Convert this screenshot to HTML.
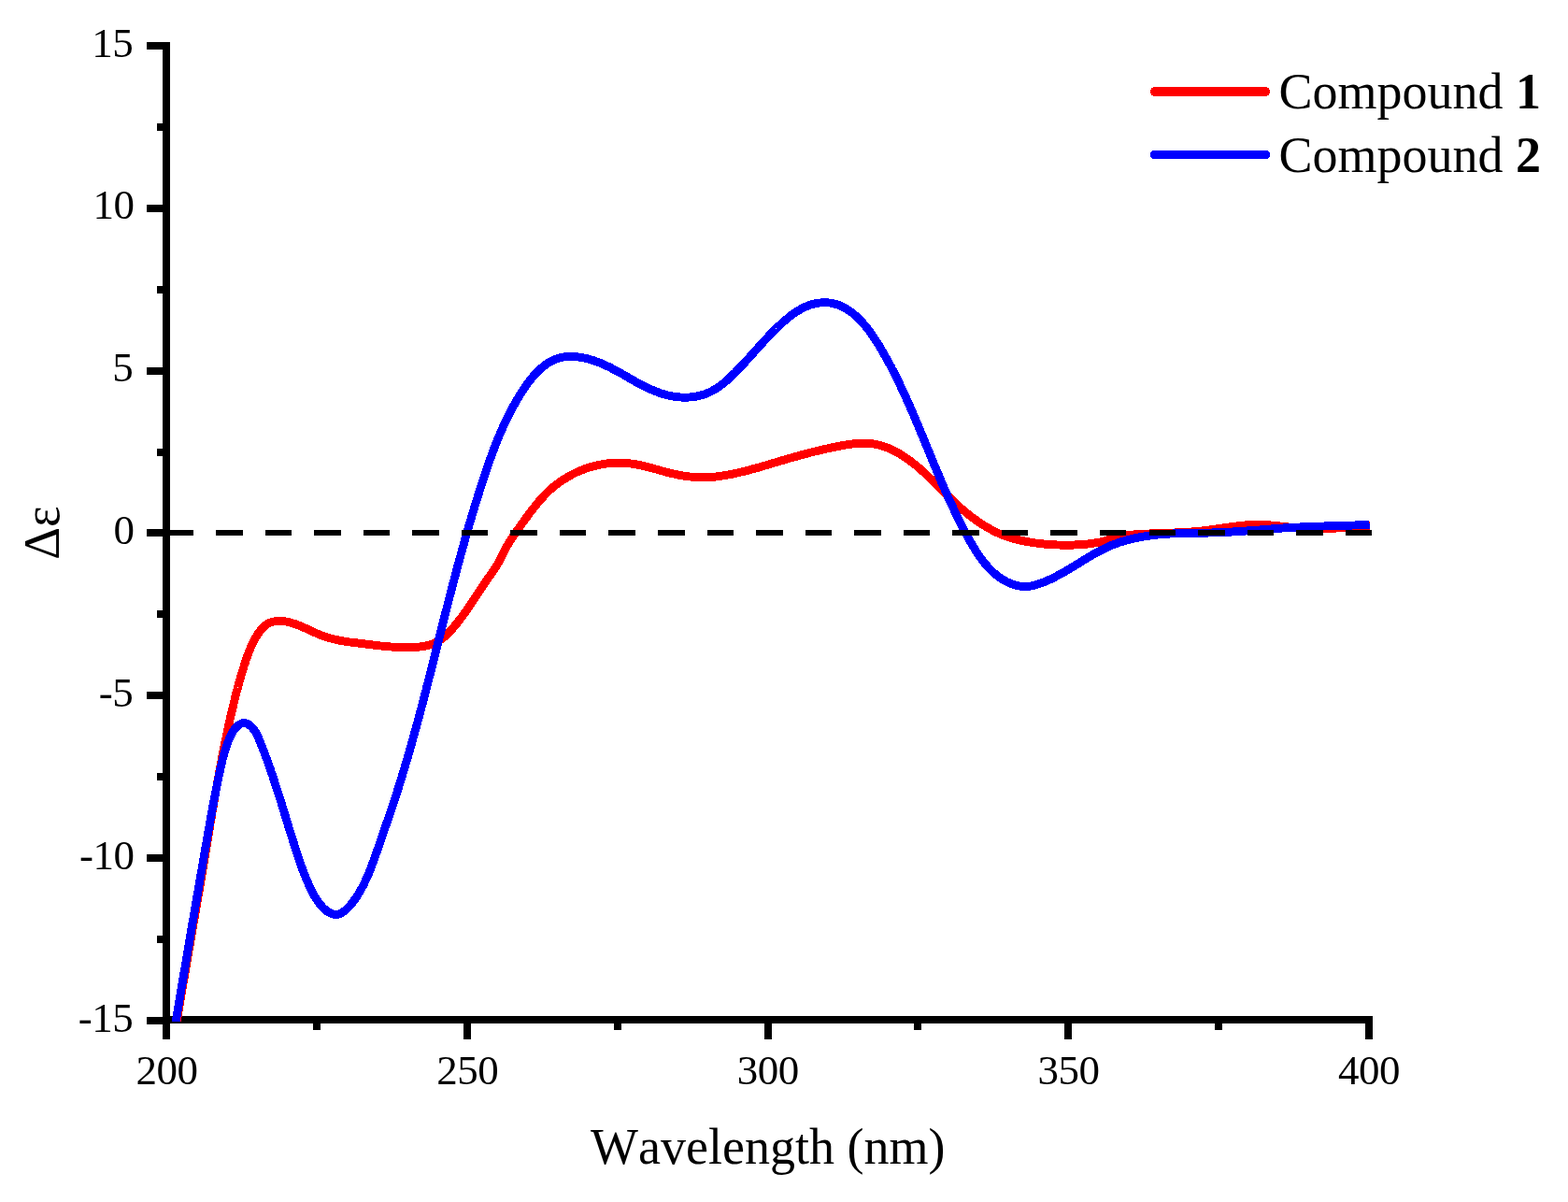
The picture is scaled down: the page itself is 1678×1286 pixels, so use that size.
<!DOCTYPE html>
<html lang="en"><head><meta charset="utf-8"><title>ECD spectra</title>
<style>
html,body{margin:0;padding:0;background:#fff;}
body{width:1678px;height:1286px;overflow:hidden;}
svg{display:block;}
text{font-family:"Liberation Serif","Times New Roman",serif;fill:#000;font-kerning:none;}
.tk{font-size:45px;letter-spacing:-0.5px;}
.tt{font-size:54px;}
</style></head><body>
<svg width="1678" height="1286" viewBox="0 0 1678 1286">
<rect width="1678" height="1286" fill="#fff"/>
<defs><clipPath id="plot"><rect x="174" y="40" width="1292.3" height="1053"/></clipPath></defs>

<g shape-rendering="crispEdges" fill="#000">
<rect x="174" y="45" width="8" height="1067"/>
<rect x="174" y="1087" width="1294.5" height="8"/>
<rect x="157" y="45" width="21" height="8"/>
<rect x="157" y="219" width="21" height="8"/>
<rect x="157" y="393" width="21" height="8"/>
<rect x="157" y="566" width="21" height="8"/>
<rect x="157" y="740" width="21" height="8"/>
<rect x="157" y="914" width="21" height="8"/>
<rect x="157" y="1088" width="21" height="8"/>
<rect x="168" y="132" width="10" height="8"/>
<rect x="168" y="306" width="10" height="8"/>
<rect x="168" y="480" width="10" height="8"/>
<rect x="168" y="653" width="10" height="8"/>
<rect x="168" y="827" width="10" height="8"/>
<rect x="168" y="1001" width="10" height="8"/>
<rect x="495.9" y="1091" width="8" height="21"/>
<rect x="817.5" y="1091" width="8" height="21"/>
<rect x="1139.2" y="1091" width="8" height="21"/>
<rect x="1460.8" y="1091" width="8" height="21"/>
<rect x="335.1" y="1091" width="8" height="11"/>
<rect x="656.7" y="1091" width="8" height="11"/>
<rect x="978.4" y="1091" width="8" height="11"/>
<rect x="1300.0" y="1091" width="8" height="11"/>
</g>
<g clip-path="url(#plot)" fill="none" stroke-width="8.9" stroke-linejoin="round" stroke-linecap="butt" shape-rendering="crispEdges">
<path d="M179.8,1150.0 L180.1,1148.6 L180.3,1147.1 L180.5,1145.6 L180.8,1144.1 L181.0,1142.6 L181.3,1141.1 L181.5,1139.7 L181.7,1138.2 L182.0,1136.7 L182.2,1135.2 L182.4,1133.7 L182.7,1132.2 L182.9,1130.8 L183.2,1129.3 L183.4,1127.8 L183.6,1126.3 L183.9,1124.8 L184.1,1123.3 L184.4,1121.9 L184.6,1120.4 L184.8,1118.9 L185.1,1117.4 L185.3,1115.9 L185.6,1114.5 L185.8,1113.0 L186.0,1111.5 L186.3,1110.0 L186.5,1108.5 L186.8,1107.0 L187.0,1105.6 L187.3,1104.1 L187.5,1102.6 L187.8,1101.1 L188.0,1099.6 L188.3,1098.2 L188.5,1096.7 L188.7,1095.2 L189.0,1093.7 L189.2,1092.2 L189.5,1090.8 L189.7,1089.3 L190.0,1087.8 L190.2,1086.3 L190.5,1084.9 L190.7,1083.4 L191.0,1081.9 L191.2,1080.4 L191.5,1078.9 L191.7,1077.5 L192.0,1076.0 L192.2,1074.5 L192.5,1073.0 L192.7,1071.5 L193.0,1070.1 L193.2,1068.6 L193.5,1067.1 L193.7,1065.6 L194.0,1064.2 L194.2,1062.7 L194.5,1061.2 L194.7,1059.7 L195.0,1058.2 L195.2,1056.8 L195.5,1055.3 L195.7,1053.8 L196.0,1052.3 L196.2,1050.9 L196.5,1049.4 L196.8,1047.9 L197.0,1046.4 L197.3,1044.9 L197.5,1043.5 L197.8,1042.0 L198.0,1040.5 L198.3,1039.0 L198.5,1037.6 L198.8,1036.1 L199.0,1034.6 L199.3,1033.1 L199.5,1031.7 L199.8,1030.2 L200.1,1028.7 L200.3,1027.2 L200.6,1025.7 L200.8,1024.3 L201.1,1022.8 L201.3,1021.3 L201.6,1019.8 L201.8,1018.4 L202.1,1016.9 L202.3,1015.4 L202.6,1013.9 L202.9,1012.5 L203.1,1011.0 L203.4,1009.5 L203.6,1008.0 L203.9,1006.5 L204.1,1005.1 L204.4,1003.6 L204.6,1002.1 L204.9,1000.6 L205.2,999.2 L205.4,997.7 L205.7,996.2 L205.9,994.7 L206.2,993.3 L206.4,991.8 L206.7,990.3 L206.9,988.8 L207.2,987.3 L207.4,985.9 L207.7,984.4 L208.0,982.9 L208.2,981.4 L208.5,980.0 L208.7,978.5 L209.0,977.0 L209.2,975.5 L209.5,974.1 L209.7,972.6 L210.0,971.1 L210.2,969.6 L210.5,968.1 L210.7,966.7 L211.0,965.2 L211.3,963.7 L211.5,962.2 L211.8,960.7 L212.0,959.3 L212.3,957.8 L212.5,956.3 L212.8,954.8 L213.0,953.4 L213.3,951.9 L213.5,950.4 L213.8,948.9 L214.0,947.4 L214.3,946.0 L214.5,944.5 L214.8,943.0 L215.0,941.5 L215.3,940.0 L215.5,938.6 L215.8,937.1 L216.0,935.6 L216.3,934.1 L216.5,932.6 L216.8,931.2 L217.0,929.7 L217.3,928.2 L217.5,926.7 L217.8,925.2 L218.0,923.8 L218.3,922.3 L218.5,920.8 L218.8,919.3 L219.0,917.8 L219.2,916.4 L219.5,914.9 L219.7,913.4 L220.0,911.9 L220.2,910.4 L220.5,909.0 L220.7,907.5 L221.0,906.0 L221.2,904.5 L221.5,903.0 L221.7,901.5 L221.9,900.1 L222.2,898.6 L222.4,897.1 L222.7,895.6 L222.9,894.1 L223.2,892.6 L223.4,891.2 L223.7,889.7 L223.9,888.2 L224.2,886.7 L224.4,885.2 L224.6,883.8 L224.9,882.3 L225.1,880.8 L225.4,879.3 L225.6,877.8 L225.9,876.3 L226.1,874.9 L226.4,873.4 L226.6,871.9 L226.9,870.4 L227.1,868.9 L227.4,867.5 L227.6,866.0 L227.9,864.5 L228.1,863.0 L228.4,861.5 L228.6,860.1 L228.9,858.6 L229.1,857.1 L229.4,855.6 L229.7,854.1 L229.9,852.7 L230.2,851.2 L230.4,849.7 L230.7,848.2 L230.9,846.7 L231.2,845.3 L231.5,843.8 L231.7,842.3 L232.0,840.8 L232.3,839.3 L232.5,837.9 L232.8,836.4 L233.1,834.9 L233.3,833.4 L233.6,832.0 L233.9,830.5 L234.1,829.0 L234.4,827.5 L234.7,826.1 L234.9,824.6 L235.2,823.1 L235.5,821.6 L235.8,820.2 L236.0,818.7 L236.3,817.2 L236.6,815.7 L236.9,814.3 L237.2,812.8 L237.4,811.3 L237.7,809.9 L238.0,808.4 L238.3,806.9 L238.6,805.4 L238.9,804.0 L239.2,802.5 L239.5,801.0 L239.8,799.6 L240.1,798.1 L240.4,796.6 L240.7,795.2 L241.0,793.7 L241.3,792.2 L241.6,790.8 L241.9,789.3 L242.2,787.8 L242.5,786.4 L242.8,784.9 L243.1,783.4 L243.4,782.0 L243.7,780.5 L244.0,779.0 L244.4,777.6 L244.7,776.1 L245.0,774.7 L245.3,773.2 L245.7,771.7 L246.0,770.3 L246.3,768.8 L246.6,767.4 L247.0,765.9 L247.3,764.5 L247.6,763.0 L248.0,761.5 L248.3,760.1 L248.7,758.6 L249.0,757.2 L249.4,755.7 L249.7,754.3 L250.1,752.8 L250.4,751.4 L250.8,749.9 L251.1,748.5 L251.5,747.0 L251.8,745.6 L252.2,744.1 L252.6,742.7 L252.9,741.2 L253.3,739.8 L253.7,738.4 L254.1,736.9 L254.5,735.5 L254.8,734.0 L255.2,732.6 L255.6,731.1 L256.0,729.7 L256.4,728.2 L256.8,726.8 L257.3,725.4 L257.7,723.9 L258.1,722.5 L258.5,721.0 L259.0,719.6 L259.4,718.1 L259.8,716.7 L260.3,715.3 L260.8,713.8 L261.2,712.4 L261.7,710.9 L262.2,709.5 L262.6,708.0 L263.1,706.6 L263.6,705.2 L264.1,703.7 L264.6,702.3 L265.1,700.8 L265.7,699.4 L266.2,698.0 L266.8,696.5 L267.3,695.1 L267.9,693.7 L268.5,692.3 L269.1,690.9 L269.7,689.5 L270.4,688.1 L271.0,686.8 L271.7,685.4 L272.4,684.1 L273.2,682.8 L273.9,681.5 L274.7,680.2 L275.5,678.9 L276.4,677.7 L277.2,676.5 L278.1,675.3 L279.1,674.1 L280.0,673.0 L281.0,671.9 L282.1,670.8 L283.1,669.8 L284.3,668.9 L285.4,668.1 L286.7,667.3 L287.9,666.7 L289.2,666.1 L290.6,665.6 L292.0,665.2 L293.4,664.9 L294.9,664.7 L296.3,664.5 L297.8,664.4 L299.3,664.4 L300.8,664.5 L302.3,664.6 L303.8,664.7 L305.3,664.9 L306.8,665.2 L308.2,665.5 L309.7,665.8 L311.1,666.2 L312.6,666.6 L314.0,667.0 L315.4,667.5 L316.9,668.0 L318.3,668.5 L319.7,669.1 L321.1,669.6 L322.5,670.2 L323.9,670.8 L325.3,671.5 L326.7,672.1 L328.0,672.7 L329.4,673.4 L330.8,674.0 L332.2,674.7 L333.6,675.3 L335.0,676.0 L336.4,676.6 L337.8,677.2 L339.2,677.8 L340.5,678.4 L341.9,679.0 L343.4,679.6 L344.8,680.1 L346.2,680.6 L347.6,681.1 L349.0,681.6 L350.4,682.0 L351.9,682.4 L353.3,682.8 L354.7,683.2 L356.2,683.6 L357.6,683.9 L359.1,684.3 L360.5,684.6 L362.0,684.9 L363.5,685.2 L364.9,685.4 L366.4,685.7 L367.9,686.0 L369.3,686.2 L370.8,686.4 L372.3,686.6 L373.7,686.9 L375.2,687.1 L376.7,687.3 L378.2,687.5 L379.7,687.6 L381.1,687.8 L382.6,688.0 L384.1,688.2 L385.6,688.4 L387.1,688.6 L388.6,688.7 L390.0,688.9 L391.5,689.1 L393.0,689.3 L394.5,689.5 L396.0,689.7 L397.5,689.8 L398.9,690.0 L400.4,690.2 L401.9,690.4 L403.4,690.5 L404.9,690.7 L406.4,690.9 L407.9,691.0 L409.4,691.2 L410.9,691.3 L412.3,691.5 L413.8,691.6 L415.3,691.8 L416.8,691.9 L418.3,692.0 L419.8,692.1 L421.3,692.2 L422.8,692.3 L424.3,692.4 L425.8,692.5 L427.3,692.5 L428.8,692.6 L430.4,692.6 L431.9,692.7 L433.4,692.7 L434.9,692.7 L436.4,692.7 L437.9,692.7 L439.5,692.6 L441.0,692.6 L442.5,692.5 L444.0,692.4 L445.6,692.3 L447.1,692.2 L448.6,692.1 L450.1,691.9 L451.6,691.7 L453.1,691.5 L454.5,691.2 L456.0,690.9 L457.4,690.6 L458.9,690.2 L460.3,689.8 L461.7,689.3 L463.1,688.9 L464.5,688.3 L465.8,687.7 L467.1,687.1 L468.4,686.4 L469.7,685.7 L470.9,684.9 L472.1,684.0 L473.3,683.2 L474.5,682.2 L475.7,681.2 L476.8,680.2 L477.9,679.2 L479.0,678.1 L480.0,677.1 L481.1,676.0 L482.1,674.8 L483.2,673.7 L484.2,672.6 L485.2,671.4 L486.2,670.3 L487.1,669.1 L488.1,668.0 L489.1,666.8 L490.0,665.6 L490.9,664.4 L491.9,663.2 L492.8,662.0 L493.7,660.8 L494.6,659.6 L495.5,658.4 L496.3,657.2 L497.2,656.0 L498.1,654.8 L499.0,653.6 L499.8,652.3 L500.7,651.1 L501.5,649.9 L502.3,648.6 L503.2,647.4 L504.0,646.1 L504.8,644.9 L505.7,643.6 L506.5,642.4 L507.3,641.2 L508.1,639.9 L509.0,638.7 L509.8,637.4 L510.6,636.1 L511.4,634.9 L512.2,633.6 L513.1,632.4 L513.9,631.1 L514.7,629.9 L515.5,628.6 L516.4,627.4 L517.2,626.1 L518.0,624.9 L518.9,623.7 L519.7,622.4 L520.6,621.2 L521.4,619.9 L522.3,618.7 L523.2,617.5 L524.0,616.3 L524.9,615.0 L525.8,613.8 L526.6,612.6 L527.5,611.3 L528.3,610.1 L529.2,608.8 L530.0,607.6 L530.8,606.3 L531.6,605.0 L532.4,603.7 L533.1,602.4 L533.9,601.1 L534.6,599.8 L535.3,598.4 L536.0,597.1 L536.7,595.7 L537.4,594.4 L538.1,593.1 L538.8,591.7 L539.5,590.4 L540.1,589.0 L540.8,587.7 L541.5,586.4 L542.2,585.0 L542.9,583.7 L543.7,582.4 L544.4,581.1 L545.1,579.9 L545.9,578.6 L546.7,577.4 L547.5,576.1 L548.3,574.9 L549.1,573.7 L550.0,572.5 L550.8,571.3 L551.7,570.1 L552.5,568.9 L553.4,567.7 L554.2,566.5 L555.1,565.3 L556.0,564.1 L556.8,562.9 L557.7,561.7 L558.5,560.4 L559.4,559.2 L560.3,558.0 L561.2,556.8 L562.0,555.5 L562.9,554.3 L563.8,553.1 L564.7,551.8 L565.6,550.6 L566.5,549.4 L567.4,548.2 L568.3,547.0 L569.3,545.8 L570.2,544.6 L571.1,543.4 L572.1,542.2 L573.0,541.0 L574.0,539.8 L575.0,538.6 L575.9,537.5 L576.9,536.3 L577.9,535.2 L578.9,534.0 L579.9,532.9 L581.0,531.8 L582.0,530.7 L583.0,529.6 L584.1,528.5 L585.2,527.4 L586.2,526.4 L587.3,525.3 L588.4,524.3 L589.5,523.3 L590.7,522.3 L591.8,521.3 L593.0,520.4 L594.1,519.4 L595.3,518.5 L596.5,517.6 L597.7,516.7 L598.9,515.8 L600.2,514.9 L601.4,514.1 L602.6,513.3 L603.9,512.5 L605.2,511.7 L606.5,510.9 L607.7,510.1 L609.0,509.4 L610.4,508.7 L611.7,507.9 L613.0,507.3 L614.3,506.6 L615.7,505.9 L617.0,505.3 L618.4,504.7 L619.8,504.1 L621.1,503.5 L622.5,502.9 L623.9,502.4 L625.3,501.9 L626.7,501.4 L628.1,500.9 L629.5,500.4 L630.9,500.0 L632.4,499.5 L633.8,499.1 L635.2,498.7 L636.7,498.4 L638.1,498.0 L639.6,497.7 L641.0,497.4 L642.5,497.1 L644.0,496.8 L645.4,496.6 L646.9,496.3 L648.4,496.1 L649.8,495.9 L651.3,495.8 L652.8,495.6 L654.3,495.5 L655.8,495.4 L657.2,495.3 L658.7,495.2 L660.2,495.2 L661.7,495.2 L663.2,495.2 L664.7,495.2 L666.2,495.2 L667.7,495.3 L669.1,495.4 L670.6,495.5 L672.1,495.6 L673.6,495.8 L675.1,496.0 L676.6,496.2 L678.1,496.4 L679.5,496.6 L681.0,496.9 L682.5,497.2 L684.0,497.5 L685.4,497.8 L686.9,498.1 L688.4,498.4 L689.9,498.8 L691.3,499.2 L692.8,499.5 L694.3,499.9 L695.7,500.3 L697.2,500.7 L698.7,501.1 L700.1,501.5 L701.6,501.9 L703.1,502.3 L704.5,502.8 L706.0,503.2 L707.5,503.6 L709.0,504.0 L710.4,504.4 L711.9,504.8 L713.4,505.2 L714.8,505.6 L716.3,505.9 L717.8,506.3 L719.2,506.7 L720.7,507.0 L722.2,507.3 L723.7,507.6 L725.1,508.0 L726.6,508.2 L728.1,508.5 L729.6,508.8 L731.1,509.0 L732.5,509.3 L734.0,509.5 L735.5,509.7 L737.0,509.9 L738.5,510.0 L739.9,510.2 L741.4,510.3 L742.9,510.4 L744.4,510.5 L745.9,510.6 L747.4,510.7 L748.8,510.7 L750.3,510.8 L751.8,510.8 L753.3,510.8 L754.8,510.7 L756.3,510.7 L757.8,510.6 L759.2,510.5 L760.7,510.4 L762.2,510.3 L763.7,510.2 L765.2,510.1 L766.7,509.9 L768.1,509.7 L769.6,509.5 L771.1,509.3 L772.6,509.1 L774.1,508.9 L775.6,508.6 L777.0,508.4 L778.5,508.1 L780.0,507.8 L781.5,507.6 L782.9,507.3 L784.4,507.0 L785.9,506.7 L787.4,506.3 L788.8,506.0 L790.3,505.7 L791.8,505.3 L793.2,505.0 L794.7,504.6 L796.2,504.3 L797.6,503.9 L799.1,503.5 L800.5,503.2 L802.0,502.8 L803.4,502.4 L804.9,502.0 L806.4,501.6 L807.8,501.2 L809.3,500.8 L810.7,500.4 L812.2,500.0 L813.6,499.6 L815.1,499.2 L816.5,498.7 L817.9,498.3 L819.4,497.9 L820.8,497.5 L822.3,497.0 L823.7,496.6 L825.2,496.2 L826.6,495.8 L828.0,495.3 L829.5,494.9 L830.9,494.5 L832.4,494.0 L833.8,493.6 L835.2,493.2 L836.7,492.7 L838.1,492.3 L839.6,491.9 L841.0,491.5 L842.4,491.0 L843.9,490.6 L845.3,490.2 L846.7,489.8 L848.2,489.4 L849.6,489.0 L851.0,488.6 L852.5,488.2 L853.9,487.8 L855.3,487.4 L856.8,487.0 L858.2,486.6 L859.7,486.2 L861.1,485.8 L862.5,485.4 L864.0,485.1 L865.4,484.7 L866.9,484.3 L868.3,484.0 L869.7,483.6 L871.2,483.2 L872.6,482.9 L874.1,482.5 L875.5,482.2 L877.0,481.8 L878.4,481.5 L879.9,481.2 L881.4,480.8 L882.8,480.5 L884.3,480.2 L885.7,479.9 L887.2,479.5 L888.7,479.2 L890.2,478.9 L891.6,478.6 L893.1,478.3 L894.6,478.0 L896.1,477.7 L897.6,477.4 L899.1,477.1 L900.6,476.8 L902.1,476.5 L903.6,476.3 L905.1,476.0 L906.6,475.8 L908.1,475.5 L909.6,475.3 L911.1,475.1 L912.6,474.9 L914.1,474.7 L915.6,474.6 L917.1,474.5 L918.6,474.3 L920.1,474.3 L921.6,474.2 L923.1,474.2 L924.6,474.1 L926.1,474.2 L927.6,474.2 L929.0,474.3 L930.5,474.4 L932.0,474.6 L933.5,474.7 L934.9,475.0 L936.4,475.2 L937.8,475.5 L939.3,475.8 L940.7,476.2 L942.1,476.6 L943.6,477.0 L945.0,477.4 L946.4,477.9 L947.8,478.4 L949.2,478.9 L950.6,479.5 L951.9,480.1 L953.3,480.7 L954.7,481.3 L956.0,482.0 L957.4,482.7 L958.7,483.4 L960.0,484.1 L961.3,484.8 L962.7,485.6 L964.0,486.3 L965.2,487.1 L966.5,488.0 L967.8,488.8 L969.0,489.6 L970.3,490.5 L971.5,491.3 L972.7,492.2 L974.0,493.1 L975.2,494.0 L976.3,494.9 L977.5,495.8 L978.7,496.8 L979.9,497.7 L981.0,498.6 L982.2,499.6 L983.3,500.6 L984.4,501.5 L985.6,502.5 L986.7,503.5 L987.8,504.5 L988.9,505.5 L990.0,506.5 L991.1,507.5 L992.2,508.6 L993.3,509.6 L994.3,510.6 L995.4,511.7 L996.5,512.7 L997.6,513.7 L998.6,514.8 L999.7,515.8 L1000.8,516.9 L1001.8,518.0 L1002.9,519.0 L1003.9,520.1 L1005.0,521.1 L1006.1,522.2 L1007.1,523.3 L1008.2,524.3 L1009.2,525.4 L1010.3,526.4 L1011.3,527.5 L1012.4,528.6 L1013.5,529.6 L1014.5,530.7 L1015.6,531.7 L1016.7,532.8 L1017.8,533.8 L1018.8,534.9 L1019.9,535.9 L1021.0,537.0 L1022.1,538.0 L1023.2,539.0 L1024.3,540.0 L1025.4,541.1 L1026.6,542.1 L1027.7,543.1 L1028.8,544.1 L1030.0,545.1 L1031.1,546.1 L1032.3,547.0 L1033.4,548.0 L1034.6,549.0 L1035.8,549.9 L1036.9,550.9 L1038.1,551.8 L1039.3,552.7 L1040.5,553.6 L1041.7,554.5 L1042.9,555.4 L1044.2,556.3 L1045.4,557.2 L1046.6,558.0 L1047.9,558.9 L1049.1,559.7 L1050.4,560.6 L1051.6,561.4 L1052.9,562.2 L1054.2,562.9 L1055.5,563.7 L1056.8,564.5 L1058.1,565.2 L1059.4,565.9 L1060.7,566.6 L1062.0,567.3 L1063.3,568.0 L1064.7,568.7 L1066.0,569.3 L1067.4,570.0 L1068.7,570.6 L1070.1,571.2 L1071.5,571.7 L1072.8,572.3 L1074.2,572.8 L1075.6,573.4 L1077.0,573.9 L1078.4,574.3 L1079.9,574.8 L1081.3,575.3 L1082.7,575.7 L1084.1,576.1 L1085.6,576.5 L1087.0,576.9 L1088.5,577.3 L1089.9,577.6 L1091.4,578.0 L1092.9,578.3 L1094.3,578.6 L1095.8,578.9 L1097.3,579.2 L1098.7,579.5 L1100.2,579.8 L1101.7,580.0 L1103.2,580.3 L1104.7,580.5 L1106.2,580.7 L1107.7,580.9 L1109.2,581.1 L1110.7,581.3 L1112.2,581.5 L1113.7,581.7 L1115.2,581.8 L1116.7,582.0 L1118.2,582.1 L1119.7,582.2 L1121.2,582.4 L1122.7,582.5 L1124.2,582.6 L1125.7,582.7 L1127.2,582.8 L1128.7,582.8 L1130.2,582.9 L1131.7,583.0 L1133.2,583.0 L1134.7,583.1 L1136.2,583.1 L1137.7,583.1 L1139.2,583.2 L1140.7,583.2 L1142.2,583.2 L1143.7,583.2 L1145.2,583.1 L1146.7,583.1 L1148.2,583.1 L1149.6,583.0 L1151.1,582.9 L1152.6,582.9 L1154.1,582.8 L1155.6,582.7 L1157.1,582.6 L1158.6,582.5 L1160.1,582.3 L1161.6,582.2 L1163.1,582.1 L1164.6,581.9 L1166.1,581.7 L1167.6,581.5 L1169.0,581.3 L1170.5,581.1 L1172.0,580.9 L1173.5,580.6 L1175.0,580.4 L1176.4,580.1 L1177.9,579.8 L1179.3,579.4 L1180.8,579.0 L1182.2,578.7 L1183.7,578.2 L1185.1,577.8 L1186.6,577.4 L1188.0,576.9 L1189.4,576.5 L1190.8,576.0 L1192.3,575.6 L1193.7,575.2 L1195.1,574.8 L1196.6,574.4 L1198.0,574.1 L1199.5,573.8 L1201.0,573.5 L1202.4,573.2 L1203.9,573.0 L1205.4,572.7 L1206.9,572.6 L1208.4,572.4 L1209.9,572.2 L1211.4,572.1 L1212.9,572.0 L1214.3,571.8 L1215.8,571.7 L1217.3,571.6 L1218.8,571.5 L1220.3,571.4 L1221.8,571.3 L1223.3,571.3 L1224.8,571.2 L1226.3,571.1 L1227.8,571.0 L1229.3,571.0 L1230.8,570.9 L1232.3,570.8 L1233.8,570.8 L1235.3,570.7 L1236.8,570.7 L1238.3,570.6 L1239.8,570.6 L1241.3,570.5 L1242.8,570.4 L1244.3,570.4 L1245.8,570.3 L1247.3,570.3 L1248.8,570.2 L1250.3,570.2 L1251.8,570.1 L1253.3,570.1 L1254.8,570.0 L1256.3,570.0 L1257.8,569.9 L1259.3,569.9 L1260.8,569.8 L1262.3,569.7 L1263.8,569.7 L1265.3,569.6 L1266.8,569.5 L1268.3,569.4 L1269.8,569.3 L1271.3,569.2 L1272.7,569.2 L1274.2,569.1 L1275.7,568.9 L1277.2,568.8 L1278.7,568.7 L1280.2,568.6 L1281.7,568.4 L1283.2,568.3 L1284.7,568.2 L1286.2,568.0 L1287.7,567.8 L1289.2,567.7 L1290.7,567.5 L1292.1,567.3 L1293.6,567.1 L1295.1,566.9 L1296.6,566.7 L1298.1,566.5 L1299.6,566.3 L1301.1,566.1 L1302.6,565.8 L1304.1,565.6 L1305.6,565.4 L1307.0,565.2 L1308.5,565.0 L1310.0,564.7 L1311.5,564.5 L1313.0,564.3 L1314.5,564.1 L1316.0,563.9 L1317.5,563.7 L1319.0,563.5 L1320.4,563.3 L1321.9,563.1 L1323.4,562.9 L1324.9,562.7 L1326.4,562.5 L1327.9,562.4 L1329.4,562.2 L1330.9,562.1 L1332.4,561.9 L1333.9,561.8 L1335.3,561.7 L1336.8,561.6 L1338.3,561.5 L1339.8,561.5 L1341.3,561.4 L1342.8,561.4 L1344.3,561.3 L1345.8,561.3 L1347.3,561.3 L1348.8,561.4 L1350.3,561.4 L1351.8,561.5 L1353.3,561.5 L1354.7,561.6 L1356.2,561.7 L1357.7,561.8 L1359.2,561.9 L1360.7,562.0 L1362.2,562.2 L1363.7,562.3 L1365.2,562.5 L1366.7,562.6 L1368.2,562.8 L1369.7,562.9 L1371.2,563.1 L1372.7,563.3 L1374.2,563.4 L1375.7,563.6 L1377.2,563.8 L1378.7,564.0 L1380.2,564.1 L1381.7,564.3 L1383.2,564.5 L1384.7,564.6 L1386.2,564.8 L1387.7,564.9 L1389.2,565.1 L1390.7,565.2 L1392.2,565.4 L1393.7,565.5 L1395.2,565.6 L1396.7,565.7 L1398.2,565.8 L1399.7,565.8 L1401.2,565.9 L1402.7,565.9 L1404.2,566.0 L1405.7,566.0 L1407.2,566.0 L1408.7,566.0 L1410.1,566.0 L1411.6,566.0 L1413.1,565.9 L1414.6,565.9 L1416.1,565.8 L1417.6,565.8 L1419.1,565.7 L1420.6,565.7 L1422.1,565.6 L1423.6,565.5 L1425.1,565.4 L1426.6,565.3 L1428.1,565.2 L1429.6,565.1 L1431.1,565.0 L1432.6,564.9 L1434.1,564.8 L1435.6,564.7 L1437.1,564.5 L1438.6,564.4 L1440.1,564.3 L1441.6,564.2 L1443.1,564.1 L1444.6,564.0 L1446.1,563.8 L1447.6,563.7 L1449.1,563.6 L1450.6,563.5 L1452.1,563.4 L1453.6,563.3 L1455.0,563.2 L1456.5,563.2 L1458.0,563.1 L1459.5,563.0 L1461.0,562.9 L1462.5,562.9 L1464.0,562.8 L1465.5,562.8" stroke="#ff0000"/>
<path d="M178.8,1150.0 L179.0,1148.5 L179.3,1147.1 L179.5,1145.6 L179.8,1144.1 L180.0,1142.6 L180.3,1141.1 L180.5,1139.7 L180.7,1138.2 L181.0,1136.7 L181.2,1135.2 L181.5,1133.7 L181.7,1132.2 L182.0,1130.8 L182.2,1129.3 L182.4,1127.8 L182.7,1126.3 L182.9,1124.8 L183.2,1123.4 L183.4,1121.9 L183.7,1120.4 L183.9,1118.9 L184.1,1117.4 L184.4,1116.0 L184.6,1114.5 L184.9,1113.0 L185.1,1111.5 L185.4,1110.0 L185.6,1108.6 L185.9,1107.1 L186.1,1105.6 L186.4,1104.1 L186.6,1102.6 L186.8,1101.2 L187.1,1099.7 L187.3,1098.2 L187.6,1096.7 L187.8,1095.2 L188.1,1093.8 L188.3,1092.3 L188.6,1090.8 L188.8,1089.3 L189.1,1087.8 L189.3,1086.4 L189.6,1084.9 L189.8,1083.4 L190.1,1081.9 L190.3,1080.4 L190.5,1079.0 L190.8,1077.5 L191.0,1076.0 L191.3,1074.5 L191.5,1073.1 L191.8,1071.6 L192.0,1070.1 L192.3,1068.6 L192.5,1067.1 L192.8,1065.7 L193.0,1064.2 L193.3,1062.7 L193.5,1061.2 L193.8,1059.7 L194.0,1058.3 L194.3,1056.8 L194.5,1055.3 L194.8,1053.8 L195.0,1052.4 L195.3,1050.9 L195.5,1049.4 L195.8,1047.9 L196.0,1046.4 L196.3,1045.0 L196.5,1043.5 L196.8,1042.0 L197.0,1040.5 L197.3,1039.0 L197.5,1037.6 L197.8,1036.1 L198.0,1034.6 L198.3,1033.1 L198.5,1031.7 L198.8,1030.2 L199.0,1028.7 L199.3,1027.2 L199.5,1025.7 L199.8,1024.3 L200.0,1022.8 L200.3,1021.3 L200.5,1019.8 L200.8,1018.4 L201.0,1016.9 L201.3,1015.4 L201.6,1013.9 L201.8,1012.4 L202.1,1011.0 L202.3,1009.5 L202.6,1008.0 L202.8,1006.5 L203.1,1005.1 L203.3,1003.6 L203.6,1002.1 L203.8,1000.6 L204.1,999.1 L204.3,997.7 L204.6,996.2 L204.8,994.7 L205.1,993.2 L205.3,991.8 L205.6,990.3 L205.8,988.8 L206.1,987.3 L206.4,985.8 L206.6,984.4 L206.9,982.9 L207.1,981.4 L207.4,979.9 L207.6,978.4 L207.9,977.0 L208.1,975.5 L208.4,974.0 L208.6,972.5 L208.9,971.1 L209.1,969.6 L209.4,968.1 L209.6,966.6 L209.9,965.1 L210.2,963.7 L210.4,962.2 L210.7,960.7 L210.9,959.2 L211.2,957.8 L211.4,956.3 L211.7,954.8 L211.9,953.3 L212.2,951.8 L212.4,950.4 L212.7,948.9 L213.0,947.4 L213.2,945.9 L213.5,944.4 L213.7,943.0 L214.0,941.5 L214.2,940.0 L214.5,938.5 L214.7,937.0 L215.0,935.6 L215.2,934.1 L215.5,932.6 L215.8,931.1 L216.0,929.7 L216.3,928.2 L216.5,926.7 L216.8,925.2 L217.0,923.7 L217.3,922.3 L217.5,920.8 L217.8,919.3 L218.0,917.8 L218.3,916.3 L218.6,914.9 L218.8,913.4 L219.1,911.9 L219.3,910.4 L219.6,908.9 L219.8,907.5 L220.1,906.0 L220.3,904.5 L220.6,903.0 L220.9,901.5 L221.1,900.1 L221.4,898.6 L221.6,897.1 L221.9,895.6 L222.2,894.1 L222.4,892.7 L222.7,891.2 L222.9,889.7 L223.2,888.2 L223.5,886.7 L223.7,885.3 L224.0,883.8 L224.2,882.3 L224.5,880.8 L224.8,879.4 L225.0,877.9 L225.3,876.4 L225.6,874.9 L225.8,873.5 L226.1,872.0 L226.4,870.5 L226.7,869.0 L226.9,867.5 L227.2,866.1 L227.5,864.6 L227.7,863.1 L228.0,861.7 L228.3,860.2 L228.6,858.7 L228.9,857.2 L229.1,855.8 L229.4,854.3 L229.7,852.8 L230.0,851.3 L230.3,849.9 L230.5,848.4 L230.8,846.9 L231.1,845.5 L231.4,844.0 L231.7,842.5 L232.0,841.1 L232.3,839.6 L232.6,838.1 L232.9,836.7 L233.2,835.2 L233.5,833.7 L233.8,832.3 L234.1,830.8 L234.4,829.4 L234.7,827.9 L235.0,826.4 L235.3,825.0 L235.6,823.5 L235.9,822.0 L236.3,820.6 L236.6,819.1 L236.9,817.7 L237.3,816.2 L237.6,814.8 L238.0,813.3 L238.3,811.9 L238.7,810.4 L239.1,809.0 L239.5,807.5 L239.9,806.1 L240.3,804.6 L240.7,803.2 L241.2,801.8 L241.6,800.3 L242.1,798.9 L242.6,797.5 L243.1,796.0 L243.6,794.6 L244.2,793.2 L244.8,791.8 L245.3,790.3 L245.9,788.9 L246.6,787.5 L247.3,786.1 L248.0,784.8 L248.8,783.4 L249.6,782.1 L250.6,780.8 L251.5,779.5 L252.6,778.3 L253.7,777.2 L254.8,776.2 L256.0,775.3 L257.3,774.6 L258.5,774.0 L259.8,773.7 L261.1,773.6 L262.4,773.7 L263.6,774.1 L264.9,774.6 L266.2,775.3 L267.4,776.2 L268.6,777.2 L269.7,778.3 L270.7,779.5 L271.7,780.7 L272.6,782.0 L273.5,783.4 L274.3,784.7 L275.0,786.1 L275.6,787.5 L276.3,788.9 L276.9,790.3 L277.5,791.7 L278.1,793.1 L278.6,794.5 L279.2,795.9 L279.8,797.3 L280.3,798.7 L280.9,800.1 L281.4,801.6 L282.0,803.0 L282.5,804.4 L283.0,805.8 L283.6,807.2 L284.1,808.6 L284.6,810.0 L285.1,811.4 L285.7,812.8 L286.2,814.2 L286.7,815.6 L287.2,817.0 L287.7,818.4 L288.2,819.8 L288.7,821.2 L289.2,822.6 L289.7,824.1 L290.1,825.5 L290.6,826.9 L291.1,828.3 L291.6,829.7 L292.1,831.1 L292.5,832.5 L293.0,833.9 L293.5,835.4 L293.9,836.8 L294.4,838.2 L294.9,839.6 L295.3,841.0 L295.8,842.5 L296.2,843.9 L296.7,845.3 L297.2,846.7 L297.6,848.2 L298.1,849.6 L298.5,851.0 L299.0,852.4 L299.4,853.9 L299.9,855.3 L300.3,856.7 L300.8,858.2 L301.2,859.6 L301.6,861.0 L302.1,862.4 L302.5,863.9 L303.0,865.3 L303.4,866.7 L303.9,868.2 L304.3,869.6 L304.7,871.0 L305.2,872.5 L305.6,873.9 L306.1,875.3 L306.5,876.8 L306.9,878.2 L307.4,879.7 L307.8,881.1 L308.3,882.5 L308.7,884.0 L309.1,885.4 L309.6,886.8 L310.0,888.3 L310.5,889.7 L310.9,891.2 L311.4,892.6 L311.8,894.0 L312.3,895.5 L312.7,896.9 L313.2,898.3 L313.6,899.8 L314.1,901.2 L314.5,902.7 L315.0,904.1 L315.4,905.5 L315.9,907.0 L316.3,908.4 L316.8,909.8 L317.3,911.3 L317.7,912.7 L318.2,914.1 L318.7,915.6 L319.1,917.0 L319.6,918.4 L320.1,919.8 L320.6,921.3 L321.1,922.7 L321.6,924.1 L322.1,925.5 L322.6,926.9 L323.1,928.3 L323.6,929.8 L324.1,931.2 L324.7,932.6 L325.2,934.0 L325.7,935.4 L326.3,936.7 L326.9,938.1 L327.4,939.5 L328.0,940.9 L328.6,942.2 L329.2,943.6 L329.8,945.0 L330.4,946.3 L331.0,947.7 L331.6,949.0 L332.2,950.4 L332.9,951.7 L333.5,953.0 L334.2,954.3 L334.9,955.6 L335.6,956.9 L336.3,958.2 L337.0,959.5 L337.8,960.8 L338.6,962.1 L339.5,963.3 L340.3,964.6 L341.2,965.8 L342.2,967.1 L343.2,968.3 L344.3,969.5 L345.4,970.7 L346.5,971.8 L347.7,972.9 L348.9,973.9 L350.1,974.9 L351.4,975.8 L352.6,976.5 L353.9,977.2 L355.2,977.7 L356.6,978.1 L357.9,978.3 L359.2,978.4 L360.5,978.3 L361.9,978.1 L363.2,977.7 L364.5,977.1 L365.8,976.5 L367.0,975.7 L368.3,974.8 L369.5,973.9 L370.7,972.8 L371.9,971.7 L373.0,970.6 L374.1,969.4 L375.1,968.3 L376.1,967.1 L377.1,965.9 L378.0,964.7 L378.9,963.4 L379.8,962.2 L380.7,961.0 L381.5,959.7 L382.3,958.5 L383.1,957.2 L383.8,956.0 L384.6,954.7 L385.4,953.4 L386.1,952.1 L386.8,950.8 L387.5,949.5 L388.2,948.2 L388.9,946.9 L389.5,945.6 L390.2,944.2 L390.8,942.9 L391.5,941.5 L392.1,940.2 L392.7,938.8 L393.3,937.5 L393.9,936.1 L394.5,934.7 L395.0,933.3 L395.6,931.9 L396.1,930.6 L396.7,929.2 L397.2,927.8 L397.8,926.4 L398.3,925.0 L398.8,923.5 L399.4,922.1 L399.9,920.7 L400.4,919.3 L400.9,917.9 L401.4,916.5 L401.9,915.1 L402.4,913.6 L402.9,912.2 L403.4,910.8 L403.9,909.4 L404.4,907.9 L404.9,906.5 L405.4,905.1 L405.8,903.7 L406.3,902.3 L406.8,900.8 L407.3,899.4 L407.8,898.0 L408.3,896.6 L408.8,895.1 L409.3,893.7 L409.8,892.3 L410.3,890.9 L410.8,889.5 L411.3,888.0 L411.8,886.6 L412.2,885.2 L412.7,883.8 L413.2,882.4 L413.7,880.9 L414.2,879.5 L414.7,878.1 L415.2,876.7 L415.7,875.3 L416.1,873.8 L416.6,872.4 L417.1,871.0 L417.6,869.6 L418.1,868.1 L418.6,866.7 L419.0,865.3 L419.5,863.9 L420.0,862.5 L420.5,861.0 L420.9,859.6 L421.4,858.2 L421.9,856.8 L422.3,855.3 L422.8,853.9 L423.3,852.5 L423.7,851.1 L424.2,849.6 L424.7,848.2 L425.1,846.8 L425.6,845.3 L426.0,843.9 L426.5,842.5 L426.9,841.1 L427.4,839.6 L427.8,838.2 L428.3,836.8 L428.7,835.3 L429.2,833.9 L429.6,832.5 L430.0,831.0 L430.5,829.6 L430.9,828.2 L431.3,826.7 L431.8,825.3 L432.2,823.9 L432.6,822.4 L433.1,821.0 L433.5,819.6 L433.9,818.1 L434.4,816.7 L434.8,815.3 L435.2,813.8 L435.6,812.4 L436.1,810.9 L436.5,809.5 L436.9,808.1 L437.3,806.6 L437.7,805.2 L438.1,803.8 L438.6,802.3 L439.0,800.9 L439.4,799.4 L439.8,798.0 L440.2,796.6 L440.6,795.1 L441.0,793.7 L441.4,792.2 L441.8,790.8 L442.2,789.3 L442.6,787.9 L443.0,786.5 L443.4,785.0 L443.8,783.6 L444.2,782.1 L444.6,780.7 L445.0,779.2 L445.4,777.8 L445.8,776.3 L446.2,774.9 L446.6,773.5 L447.0,772.0 L447.4,770.6 L447.8,769.1 L448.2,767.7 L448.5,766.2 L448.9,764.8 L449.3,763.3 L449.7,761.9 L450.1,760.4 L450.5,759.0 L450.9,757.5 L451.2,756.1 L451.6,754.6 L452.0,753.2 L452.4,751.7 L452.8,750.3 L453.1,748.8 L453.5,747.4 L453.9,745.9 L454.3,744.5 L454.7,743.0 L455.0,741.6 L455.4,740.1 L455.8,738.7 L456.2,737.2 L456.5,735.8 L456.9,734.3 L457.3,732.9 L457.7,731.4 L458.0,730.0 L458.4,728.5 L458.8,727.1 L459.1,725.6 L459.5,724.2 L459.9,722.7 L460.3,721.3 L460.6,719.8 L461.0,718.4 L461.4,716.9 L461.7,715.4 L462.1,714.0 L462.5,712.5 L462.8,711.1 L463.2,709.6 L463.6,708.2 L463.9,706.7 L464.3,705.3 L464.7,703.8 L465.0,702.4 L465.4,700.9 L465.8,699.5 L466.1,698.0 L466.5,696.5 L466.9,695.1 L467.2,693.6 L467.6,692.2 L468.0,690.7 L468.3,689.3 L468.7,687.8 L469.1,686.4 L469.4,684.9 L469.8,683.4 L470.2,682.0 L470.5,680.5 L470.9,679.1 L471.3,677.6 L471.6,676.2 L472.0,674.7 L472.4,673.3 L472.7,671.8 L473.1,670.4 L473.5,668.9 L473.8,667.4 L474.2,666.0 L474.6,664.5 L474.9,663.1 L475.3,661.6 L475.7,660.2 L476.0,658.7 L476.4,657.3 L476.8,655.8 L477.1,654.3 L477.5,652.9 L477.9,651.4 L478.3,650.0 L478.6,648.5 L479.0,647.1 L479.4,645.6 L479.7,644.2 L480.1,642.7 L480.5,641.3 L480.9,639.8 L481.2,638.3 L481.6,636.9 L482.0,635.4 L482.4,634.0 L482.7,632.5 L483.1,631.1 L483.5,629.6 L483.9,628.2 L484.3,626.7 L484.6,625.3 L485.0,623.8 L485.4,622.4 L485.8,620.9 L486.2,619.4 L486.5,618.0 L486.9,616.5 L487.3,615.1 L487.7,613.6 L488.1,612.2 L488.5,610.7 L488.8,609.3 L489.2,607.8 L489.6,606.4 L490.0,604.9 L490.4,603.5 L490.8,602.0 L491.2,600.6 L491.6,599.1 L492.0,597.7 L492.4,596.2 L492.8,594.8 L493.2,593.3 L493.6,591.9 L494.0,590.4 L494.4,589.0 L494.8,587.5 L495.2,586.1 L495.6,584.6 L496.0,583.2 L496.4,581.7 L496.8,580.3 L497.2,578.8 L497.6,577.4 L498.0,575.9 L498.4,574.5 L498.8,573.0 L499.2,571.6 L499.6,570.2 L500.1,568.7 L500.5,567.3 L500.9,565.8 L501.3,564.4 L501.7,562.9 L502.1,561.5 L502.6,560.1 L503.0,558.6 L503.4,557.2 L503.8,555.7 L504.3,554.3 L504.7,552.9 L505.1,551.4 L505.5,550.0 L506.0,548.6 L506.4,547.1 L506.8,545.7 L507.3,544.2 L507.7,542.8 L508.2,541.4 L508.6,539.9 L509.0,538.5 L509.5,537.1 L509.9,535.7 L510.4,534.2 L510.8,532.8 L511.3,531.4 L511.7,529.9 L512.2,528.5 L512.6,527.1 L513.1,525.7 L513.5,524.2 L514.0,522.8 L514.4,521.4 L514.9,520.0 L515.3,518.5 L515.8,517.1 L516.3,515.7 L516.7,514.3 L517.2,512.9 L517.7,511.4 L518.1,510.0 L518.6,508.6 L519.1,507.2 L519.6,505.8 L520.0,504.4 L520.5,503.0 L521.0,501.6 L521.5,500.1 L522.0,498.7 L522.5,497.3 L522.9,495.9 L523.4,494.5 L523.9,493.1 L524.4,491.7 L524.9,490.3 L525.4,488.9 L525.9,487.5 L526.5,486.1 L527.0,484.7 L527.5,483.3 L528.0,481.9 L528.5,480.5 L529.1,479.1 L529.6,477.7 L530.1,476.4 L530.7,475.0 L531.2,473.6 L531.8,472.2 L532.3,470.8 L532.9,469.4 L533.5,468.1 L534.0,466.7 L534.6,465.3 L535.2,463.9 L535.8,462.6 L536.4,461.2 L537.0,459.8 L537.6,458.4 L538.2,457.1 L538.8,455.7 L539.4,454.3 L540.1,453.0 L540.7,451.6 L541.3,450.3 L542.0,448.9 L542.7,447.6 L543.3,446.2 L544.0,444.9 L544.7,443.5 L545.3,442.2 L546.0,440.8 L546.7,439.5 L547.5,438.1 L548.2,436.8 L548.9,435.5 L549.6,434.1 L550.4,432.8 L551.1,431.5 L551.9,430.1 L552.6,428.8 L553.4,427.5 L554.2,426.2 L555.0,424.8 L555.8,423.5 L556.6,422.2 L557.4,420.9 L558.2,419.6 L559.1,418.3 L559.9,417.0 L560.8,415.7 L561.7,414.4 L562.6,413.1 L563.4,411.8 L564.3,410.6 L565.3,409.3 L566.2,408.1 L567.1,406.9 L568.1,405.7 L569.0,404.5 L570.0,403.3 L571.0,402.1 L572.0,401.0 L573.0,399.9 L574.1,398.8 L575.1,397.7 L576.2,396.7 L577.3,395.7 L578.4,394.7 L579.5,393.7 L580.6,392.8 L581.7,391.8 L582.9,391.0 L584.0,390.1 L585.2,389.3 L586.4,388.5 L587.7,387.8 L588.9,387.1 L590.2,386.4 L591.4,385.7 L592.7,385.2 L594.0,384.6 L595.4,384.1 L596.7,383.6 L598.1,383.2 L599.5,382.8 L600.9,382.5 L602.3,382.2 L603.8,381.9 L605.2,381.8 L606.7,381.6 L608.2,381.5 L609.8,381.5 L611.3,381.5 L612.8,381.5 L614.4,381.6 L615.9,381.7 L617.5,381.8 L619.0,382.0 L620.6,382.2 L622.1,382.5 L623.6,382.7 L625.1,383.0 L626.7,383.3 L628.1,383.7 L629.6,384.1 L631.1,384.5 L632.5,384.9 L634.0,385.3 L635.4,385.8 L636.8,386.3 L638.2,386.8 L639.6,387.3 L641.0,387.8 L642.4,388.4 L643.8,388.9 L645.2,389.5 L646.5,390.1 L647.9,390.7 L649.2,391.4 L650.5,392.0 L651.9,392.6 L653.2,393.3 L654.5,394.0 L655.8,394.7 L657.2,395.4 L658.5,396.1 L659.8,396.8 L661.1,397.5 L662.4,398.2 L663.7,398.9 L665.0,399.7 L666.3,400.4 L667.6,401.1 L668.9,401.9 L670.2,402.6 L671.5,403.4 L672.8,404.1 L674.1,404.9 L675.4,405.6 L676.7,406.4 L678.0,407.1 L679.3,407.8 L680.6,408.6 L682.0,409.3 L683.3,410.0 L684.6,410.7 L686.0,411.4 L687.3,412.1 L688.6,412.8 L690.0,413.5 L691.3,414.2 L692.7,414.8 L694.1,415.5 L695.4,416.1 L696.8,416.7 L698.2,417.3 L699.6,417.9 L701.0,418.5 L702.4,419.0 L703.8,419.6 L705.2,420.1 L706.6,420.6 L708.0,421.1 L709.4,421.5 L710.9,421.9 L712.3,422.4 L713.8,422.7 L715.2,423.1 L716.7,423.4 L718.1,423.7 L719.6,424.0 L721.1,424.2 L722.6,424.5 L724.1,424.7 L725.6,424.8 L727.1,424.9 L728.6,425.0 L730.1,425.1 L731.7,425.2 L733.2,425.2 L734.7,425.1 L736.2,425.1 L737.7,425.0 L739.2,424.9 L740.7,424.7 L742.2,424.5 L743.7,424.3 L745.2,424.1 L746.6,423.8 L748.1,423.5 L749.5,423.1 L751.0,422.7 L752.4,422.3 L753.8,421.8 L755.2,421.3 L756.6,420.8 L757.9,420.2 L759.3,419.6 L760.6,419.0 L761.9,418.3 L763.2,417.6 L764.5,416.8 L765.8,416.1 L767.1,415.3 L768.3,414.4 L769.5,413.6 L770.8,412.7 L772.0,411.8 L773.2,410.9 L774.3,410.0 L775.5,409.0 L776.7,408.0 L777.8,407.0 L779.0,406.0 L780.1,405.0 L781.2,404.0 L782.3,402.9 L783.4,401.9 L784.5,400.8 L785.6,399.7 L786.7,398.7 L787.7,397.6 L788.8,396.5 L789.9,395.4 L790.9,394.3 L792.0,393.2 L793.0,392.1 L794.0,391.0 L795.1,389.9 L796.1,388.8 L797.1,387.7 L798.1,386.6 L799.1,385.5 L800.1,384.4 L801.1,383.3 L802.1,382.2 L803.1,381.1 L804.1,380.0 L805.1,378.8 L806.1,377.7 L807.1,376.6 L808.1,375.5 L809.1,374.4 L810.1,373.3 L811.1,372.2 L812.1,371.1 L813.1,370.0 L814.1,368.9 L815.1,367.8 L816.1,366.7 L817.1,365.6 L818.1,364.5 L819.1,363.4 L820.1,362.3 L821.2,361.2 L822.2,360.1 L823.2,359.0 L824.2,358.0 L825.3,356.9 L826.3,355.8 L827.4,354.8 L828.4,353.7 L829.5,352.6 L830.6,351.6 L831.6,350.6 L832.7,349.5 L833.8,348.5 L834.9,347.5 L836.0,346.4 L837.1,345.4 L838.3,344.4 L839.4,343.4 L840.6,342.4 L841.7,341.5 L842.9,340.5 L844.1,339.5 L845.2,338.6 L846.4,337.6 L847.7,336.7 L848.9,335.8 L850.1,335.0 L851.4,334.1 L852.6,333.3 L853.9,332.5 L855.2,331.7 L856.5,331.0 L857.8,330.2 L859.1,329.5 L860.4,328.9 L861.8,328.3 L863.2,327.7 L864.6,327.1 L865.9,326.6 L867.4,326.1 L868.8,325.7 L870.2,325.3 L871.7,324.9 L873.2,324.6 L874.6,324.4 L876.1,324.1 L877.6,324.0 L879.1,323.9 L880.6,323.8 L882.2,323.7 L883.7,323.8 L885.2,323.8 L886.7,323.9 L888.2,324.1 L889.6,324.3 L891.1,324.6 L892.6,324.9 L894.0,325.3 L895.4,325.7 L896.8,326.1 L898.2,326.7 L899.6,327.2 L901.0,327.8 L902.3,328.5 L903.6,329.2 L904.9,329.9 L906.2,330.7 L907.5,331.5 L908.7,332.3 L910.0,333.2 L911.2,334.1 L912.4,335.0 L913.5,336.0 L914.7,337.0 L915.9,338.0 L917.0,339.0 L918.1,340.1 L919.2,341.1 L920.3,342.2 L921.3,343.3 L922.4,344.5 L923.4,345.6 L924.4,346.8 L925.4,347.9 L926.3,349.1 L927.3,350.3 L928.2,351.5 L929.2,352.6 L930.1,353.8 L931.0,355.1 L931.9,356.3 L932.7,357.5 L933.6,358.7 L934.4,360.0 L935.3,361.2 L936.1,362.5 L936.9,363.7 L937.7,365.0 L938.5,366.3 L939.3,367.5 L940.1,368.8 L940.9,370.1 L941.7,371.4 L942.4,372.7 L943.2,373.9 L943.9,375.2 L944.7,376.5 L945.4,377.8 L946.2,379.1 L946.9,380.4 L947.6,381.7 L948.4,383.0 L949.1,384.3 L949.8,385.6 L950.5,387.0 L951.2,388.3 L952.0,389.6 L952.7,390.9 L953.4,392.2 L954.0,393.6 L954.7,394.9 L955.4,396.2 L956.1,397.5 L956.8,398.9 L957.5,400.2 L958.1,401.5 L958.8,402.9 L959.5,404.2 L960.1,405.5 L960.8,406.9 L961.4,408.2 L962.1,409.6 L962.8,410.9 L963.4,412.3 L964.0,413.6 L964.7,415.0 L965.3,416.3 L966.0,417.7 L966.6,419.0 L967.2,420.4 L967.8,421.8 L968.5,423.1 L969.1,424.5 L969.7,425.8 L970.3,427.2 L970.9,428.6 L971.5,429.9 L972.2,431.3 L972.8,432.7 L973.4,434.1 L974.0,435.4 L974.6,436.8 L975.2,438.2 L975.8,439.5 L976.4,440.9 L977.0,442.3 L977.6,443.7 L978.1,445.1 L978.7,446.4 L979.3,447.8 L979.9,449.2 L980.5,450.6 L981.1,452.0 L981.7,453.3 L982.2,454.7 L982.8,456.1 L983.4,457.5 L984.0,458.9 L984.6,460.3 L985.1,461.7 L985.7,463.0 L986.3,464.4 L986.9,465.8 L987.4,467.2 L988.0,468.6 L988.6,470.0 L989.1,471.4 L989.7,472.8 L990.3,474.2 L990.9,475.5 L991.4,476.9 L992.0,478.3 L992.6,479.7 L993.1,481.1 L993.7,482.5 L994.3,483.9 L994.9,485.3 L995.4,486.7 L996.0,488.1 L996.6,489.4 L997.1,490.8 L997.7,492.2 L998.3,493.6 L998.9,495.0 L999.4,496.4 L1000.0,497.8 L1000.6,499.2 L1001.2,500.5 L1001.8,501.9 L1002.3,503.3 L1002.9,504.7 L1003.5,506.1 L1004.1,507.5 L1004.7,508.9 L1005.2,510.2 L1005.8,511.6 L1006.4,513.0 L1007.0,514.4 L1007.6,515.8 L1008.2,517.2 L1008.8,518.5 L1009.4,519.9 L1010.0,521.3 L1010.6,522.7 L1011.2,524.0 L1011.8,525.4 L1012.4,526.8 L1013.0,528.2 L1013.6,529.5 L1014.2,530.9 L1014.8,532.3 L1015.5,533.6 L1016.1,535.0 L1016.7,536.4 L1017.3,537.7 L1018.0,539.1 L1018.6,540.5 L1019.2,541.8 L1019.9,543.2 L1020.5,544.5 L1021.1,545.9 L1021.8,547.2 L1022.4,548.6 L1023.1,549.9 L1023.7,551.3 L1024.4,552.6 L1025.0,554.0 L1025.7,555.3 L1026.4,556.7 L1027.0,558.0 L1027.7,559.3 L1028.4,560.7 L1029.1,562.0 L1029.8,563.3 L1030.5,564.7 L1031.1,566.0 L1031.8,567.3 L1032.5,568.7 L1033.3,570.0 L1034.0,571.3 L1034.7,572.6 L1035.4,573.9 L1036.1,575.3 L1036.8,576.6 L1037.6,577.9 L1038.3,579.2 L1039.0,580.5 L1039.8,581.8 L1040.5,583.1 L1041.3,584.4 L1042.1,585.7 L1042.8,587.0 L1043.6,588.2 L1044.4,589.5 L1045.2,590.8 L1046.0,592.0 L1046.9,593.3 L1047.7,594.5 L1048.5,595.7 L1049.4,596.9 L1050.3,598.1 L1051.2,599.3 L1052.1,600.5 L1053.0,601.7 L1053.9,602.8 L1054.9,604.0 L1055.9,605.1 L1056.8,606.2 L1057.8,607.3 L1058.9,608.4 L1059.9,609.5 L1061.0,610.5 L1062.1,611.5 L1063.2,612.6 L1064.3,613.5 L1065.5,614.5 L1066.7,615.5 L1067.9,616.4 L1069.1,617.3 L1070.4,618.2 L1071.6,619.1 L1072.9,619.9 L1074.2,620.7 L1075.6,621.5 L1076.9,622.2 L1078.3,622.9 L1079.7,623.5 L1081.1,624.2 L1082.5,624.7 L1083.9,625.2 L1085.3,625.7 L1086.8,626.2 L1088.2,626.5 L1089.7,626.8 L1091.2,627.1 L1092.6,627.3 L1094.1,627.5 L1095.6,627.5 L1097.0,627.6 L1098.5,627.5 L1100.0,627.4 L1101.4,627.2 L1102.9,627.0 L1104.3,626.7 L1105.8,626.4 L1107.3,626.1 L1108.7,625.7 L1110.1,625.2 L1111.6,624.8 L1113.0,624.3 L1114.4,623.8 L1115.8,623.2 L1117.2,622.7 L1118.6,622.1 L1120.0,621.5 L1121.4,620.9 L1122.8,620.3 L1124.2,619.7 L1125.5,619.0 L1126.9,618.4 L1128.2,617.7 L1129.6,617.0 L1130.9,616.3 L1132.2,615.6 L1133.6,614.9 L1134.9,614.2 L1136.2,613.5 L1137.5,612.7 L1138.8,612.0 L1140.1,611.2 L1141.4,610.4 L1142.7,609.7 L1144.0,608.9 L1145.3,608.1 L1146.6,607.4 L1147.9,606.6 L1149.2,605.8 L1150.5,605.0 L1151.8,604.2 L1153.1,603.4 L1154.4,602.6 L1155.6,601.8 L1156.9,601.0 L1158.2,600.2 L1159.5,599.5 L1160.8,598.7 L1162.1,597.9 L1163.4,597.1 L1164.7,596.3 L1165.9,595.6 L1167.2,594.8 L1168.5,594.1 L1169.8,593.3 L1171.1,592.6 L1172.4,591.8 L1173.8,591.1 L1175.1,590.4 L1176.4,589.7 L1177.7,589.0 L1179.0,588.3 L1180.4,587.6 L1181.7,587.0 L1183.1,586.3 L1184.4,585.7 L1185.8,585.1 L1187.1,584.5 L1188.5,583.9 L1189.9,583.3 L1191.3,582.8 L1192.6,582.2 L1194.0,581.7 L1195.4,581.2 L1196.8,580.7 L1198.3,580.2 L1199.7,579.8 L1201.1,579.3 L1202.5,578.9 L1204.0,578.5 L1205.4,578.1 L1206.8,577.7 L1208.3,577.3 L1209.7,576.9 L1211.2,576.6 L1212.7,576.2 L1214.1,575.9 L1215.6,575.6 L1217.1,575.3 L1218.5,575.0 L1220.0,574.7 L1221.5,574.4 L1223.0,574.2 L1224.5,573.9 L1225.9,573.7 L1227.4,573.5 L1228.9,573.3 L1230.4,573.1 L1231.9,572.9 L1233.4,572.7 L1234.9,572.5 L1236.4,572.3 L1237.9,572.2 L1239.3,572.0 L1240.8,571.9 L1242.3,571.8 L1243.8,571.6 L1245.3,571.5 L1246.8,571.4 L1248.3,571.3 L1249.8,571.2 L1251.3,571.1 L1252.8,571.0 L1254.3,571.0 L1255.8,570.9 L1257.3,570.8 L1258.8,570.8 L1260.3,570.7 L1261.8,570.7 L1263.3,570.6 L1264.8,570.6 L1266.3,570.5 L1267.8,570.5 L1269.3,570.4 L1270.8,570.4 L1272.3,570.4 L1273.8,570.3 L1275.3,570.3 L1276.8,570.3 L1278.3,570.3 L1279.8,570.2 L1281.3,570.2 L1282.8,570.2 L1284.3,570.2 L1285.8,570.2 L1287.3,570.1 L1288.8,570.1 L1290.3,570.1 L1291.8,570.1 L1293.3,570.0 L1294.8,570.0 L1296.3,570.0 L1297.8,569.9 L1299.3,569.9 L1300.8,569.8 L1302.3,569.8 L1303.8,569.7 L1305.3,569.7 L1306.8,569.6 L1308.3,569.6 L1309.8,569.5 L1311.3,569.4 L1312.8,569.4 L1314.3,569.3 L1315.8,569.2 L1317.3,569.1 L1318.8,569.0 L1320.3,568.9 L1321.8,568.9 L1323.3,568.8 L1324.8,568.7 L1326.3,568.6 L1327.8,568.5 L1329.3,568.3 L1330.8,568.2 L1332.3,568.1 L1333.8,568.0 L1335.3,567.9 L1336.7,567.8 L1338.2,567.7 L1339.7,567.6 L1341.2,567.4 L1342.7,567.3 L1344.2,567.2 L1345.7,567.1 L1347.2,567.0 L1348.7,566.9 L1350.2,566.7 L1351.7,566.6 L1353.2,566.5 L1354.7,566.4 L1356.2,566.3 L1357.7,566.1 L1359.2,566.0 L1360.7,565.9 L1362.2,565.8 L1363.7,565.7 L1365.2,565.6 L1366.7,565.5 L1368.2,565.3 L1369.7,565.2 L1371.2,565.1 L1372.6,565.0 L1374.1,564.9 L1375.6,564.8 L1377.1,564.7 L1378.6,564.6 L1380.1,564.6 L1381.6,564.5 L1383.1,564.4 L1384.6,564.3 L1386.1,564.2 L1387.6,564.1 L1389.1,564.1 L1390.6,564.0 L1392.1,563.9 L1393.6,563.8 L1395.1,563.8 L1396.6,563.7 L1398.1,563.6 L1399.6,563.6 L1401.1,563.5 L1402.6,563.5 L1404.1,563.4 L1405.6,563.3 L1407.1,563.3 L1408.6,563.2 L1410.1,563.2 L1411.6,563.1 L1413.1,563.1 L1414.6,563.0 L1416.1,563.0 L1417.6,562.9 L1419.1,562.9 L1420.6,562.8 L1422.1,562.8 L1423.6,562.7 L1425.1,562.7 L1426.6,562.6 L1428.1,562.6 L1429.6,562.6 L1431.1,562.5 L1432.6,562.5 L1434.1,562.4 L1435.6,562.4 L1437.1,562.3 L1438.6,562.3 L1440.1,562.2 L1441.6,562.2 L1443.1,562.2 L1444.6,562.1 L1446.1,562.1 L1447.6,562.0 L1449.1,562.0 L1450.6,561.9 L1452.1,561.9 L1453.6,561.8 L1455.1,561.8 L1456.6,561.7 L1458.1,561.7 L1459.6,561.6 L1461.1,561.6 L1462.6,561.5 L1464.1,561.5 L1465.6,561.4" stroke="#0000ff"/>
</g>
<line x1="178.5" y1="570" x2="1468" y2="570" stroke="#000" stroke-width="6" stroke-dasharray="28.5 24.05" shape-rendering="crispEdges"/>
<text class="tk" x="142.3" y="60.6" text-anchor="end">15</text>
<text class="tk" x="143.5" y="234.4" text-anchor="end">10</text>
<text class="tk" x="142.3" y="408.3" text-anchor="end">5</text>
<text class="tk" x="143.5" y="582.1" text-anchor="end">0</text>
<text class="tk" x="142.3" y="755.9" text-anchor="end">-5</text>
<text class="tk" x="143.5" y="929.8" text-anchor="end">-10</text>
<text class="tk" x="142.3" y="1103.6" text-anchor="end">-15</text>
<text class="tk" x="178.6" y="1159.5" text-anchor="middle">200</text>
<text class="tk" x="500.2" y="1159.5" text-anchor="middle">250</text>
<text class="tk" x="821.8" y="1159.5" text-anchor="middle">300</text>
<text class="tk" x="1143.5" y="1159.5" text-anchor="middle">350</text>
<text class="tk" x="1465.1" y="1159.5" text-anchor="middle">400</text>
<text class="tt" x="821.7" y="1245" text-anchor="middle">Wavelength (nm)</text>
<text class="tt" transform="translate(62.5,570) rotate(-90)" text-anchor="middle">Δε</text>
<g fill="none" stroke-width="9.5" stroke-linecap="round" shape-rendering="crispEdges">
<line x1="1235.5" y1="98" x2="1354.5" y2="98" stroke="#ff0000"/>
<line x1="1235.5" y1="165.3" x2="1354.5" y2="165.3" stroke="#0000ff"/>
</g>
<text class="tt" x="1368.5" y="116" xml:space="preserve">Compound <tspan font-weight="bold">1</tspan></text>
<text class="tt" x="1368.5" y="183.5" xml:space="preserve">Compound <tspan font-weight="bold">2</tspan></text>
</svg></body></html>
